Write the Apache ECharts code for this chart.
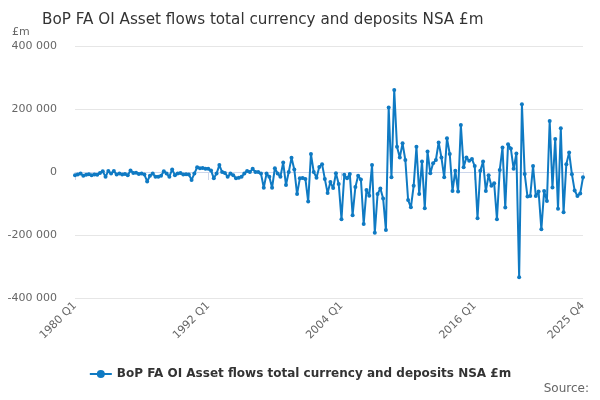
<!DOCTYPE html>
<html>
<head>
<meta charset="utf-8">
<script src="https://cdn.jsdelivr.net/npm/echarts@6/dist/echarts.min.js"></script>
<style>html,body{margin:0;padding:0;background:#fff}#c{width:600px;height:400px}</style>
</head>
<body>
<div id="c"></div>
<script>
const seriesName = 'BoP FA OI Asset flows total currency and deposits NSA £m';
const firstYear = 1980;
const lastYear = 2025;
const shownTicks = ['1980 Q1', '1992 Q1', '2004 Q1', '2016 Q1', '2025 Q4'];

// quarterly values, £m, by decade
const v1980s = [-10000,-8000,-5000,-12000,-9000,-7000,-10000,-8000,-9000,-3000,
  2000,-15000,3000,-5000,3000,-8000,-5000,-8000,-6000,-10000,
  5000,-3000,-2000,-6000,-5000,-8000,-30000,-12000,-5000,-15000,
  -15000,-12000,2000,-5000,-15000,8000,-10000,-5000,-3000,-8000];
const v1990s = [-7000,-8000,-25000,-5000,15000,12000,13000,10000,
  10000,5000,-20000,-5000,22000,0,-3000,-15000,-5000,-10000,
  -20000,-18000,-15000,-5000,3000,0,10000,0,0,-5000,
  -50000,-5000,-15000,-50000,12000,-5000,-15000,30000,-41000,0,
  45000,8000];
const v2000s = [-70000,-20000,-19000,-22000,-94000,57000,0,-18000,16000,25000,
  -22000,-67000,-32000,-51000,-4000,-38000,-150000,
  -9000,-20000,-6000,-137000,-48000,-12000,-24000,-165000,-57000,-75000,
  22000,-193000,-70000,-52000,-84000,-184000,205000,-17000,260000,80000,
  46000,91000,38000];
const v2010s = [-89000,-112000,-44000,80000,-70000,33000,-115000,65000,-4000,27500,
  38000,94000,46000,-17000,107000,57000,-60000,4000,-62000,149000,
  15000,46000,36000,41000,19000,-147000,4000,33000,-60000,-10000,
  -44000,-36000,-150000,6000,78000,-113000,88000,75000,10000,59000];
const v2020s = [-334000,215000,-6000,-78000,-76000,19000,-76000,-62000,-182000,-60000,
  -92000,162000,-49000,105000,-117000,139000,-128000,25000,62000,-7000,
  -59000,-76000,-68000,-17000];

const values = [].concat(v1980s, v1990s, v2000s, v2010s, v2020s);
const quarters = [];
for (let y = firstYear; y <= lastYear; y++) for (let q = 1; q <= 4; q++) quarters.push(y + ' Q' + q);

const showIdx = (i) => shownTicks.indexOf(quarters[i]) >= 0;
const fmt = (v) => (v < 0 ? '-' : '') + String(Math.abs(v)).replace(/\B(?=(\d{3})+(?!\d))/g, ' ');
const FONT = 'DejaVu Sans';
const BLUE = '#0f7ac3';

const chart = echarts.init(document.getElementById('c'), null, {renderer: 'canvas'});
chart.setOption({
  animation: false,
  textStyle: {fontFamily: FONT},
  title: {
    text: 'BoP FA OI Asset flows total currency and deposits NSA £m',
    left: 37, top: 8,
    textStyle: {fontFamily: FONT, fontSize: 15.2, fontWeight: 'normal', color: '#333'}
  },
  graphic: [
    {type: 'text', left: 12, top: 27, style: {text: '£m', fill: '#666', font: '11px "DejaVu Sans"'}},
    {type: 'text', right: 11, top: 383, style: {text: 'Source:', fill: '#666', font: '12px "DejaVu Sans"'}}
  ],
  grid: {left: 75, right: 17, top: 46, bottom: 102, containLabel: false},
  xAxis: {
    type: 'category', data: quarters, boundaryGap: false,
    axisLine: {lineStyle: {color: '#ccd6eb'}},
    axisTick: {interval: (i) => showIdx(i), length: 8, lineStyle: {color: '#ccd6eb'}},
    axisLabel: {interval: (i) => showIdx(i), rotate: 45, color: '#666', fontSize: 11, fontFamily: FONT, margin: 6},
    splitLine: {show: false}
  },
  yAxis: {
    type: 'value', min: -400000, max: 400000, interval: 200000,
    axisLabel: {formatter: fmt, color: '#666', fontSize: 11, fontFamily: FONT, margin: 18},
    axisLine: {show: false}, axisTick: {show: false},
    splitLine: {lineStyle: {color: '#e6e6e6'}}
  },
  legend: {
    bottom: 15, left: 'center',
    itemWidth: 22, itemHeight: 10,
    textStyle: {fontFamily: FONT, fontSize: 12, fontWeight: 'bold', color: '#333'},
    data: [seriesName]
  },
  series: [{
    name: seriesName, type: 'line', data: values,
    symbol: 'circle', symbolSize: 4, showAllSymbol: true,
    lineStyle: {width: 2, color: BLUE}, itemStyle: {color: BLUE}
  }]
});
</script>
</body>
</html>
